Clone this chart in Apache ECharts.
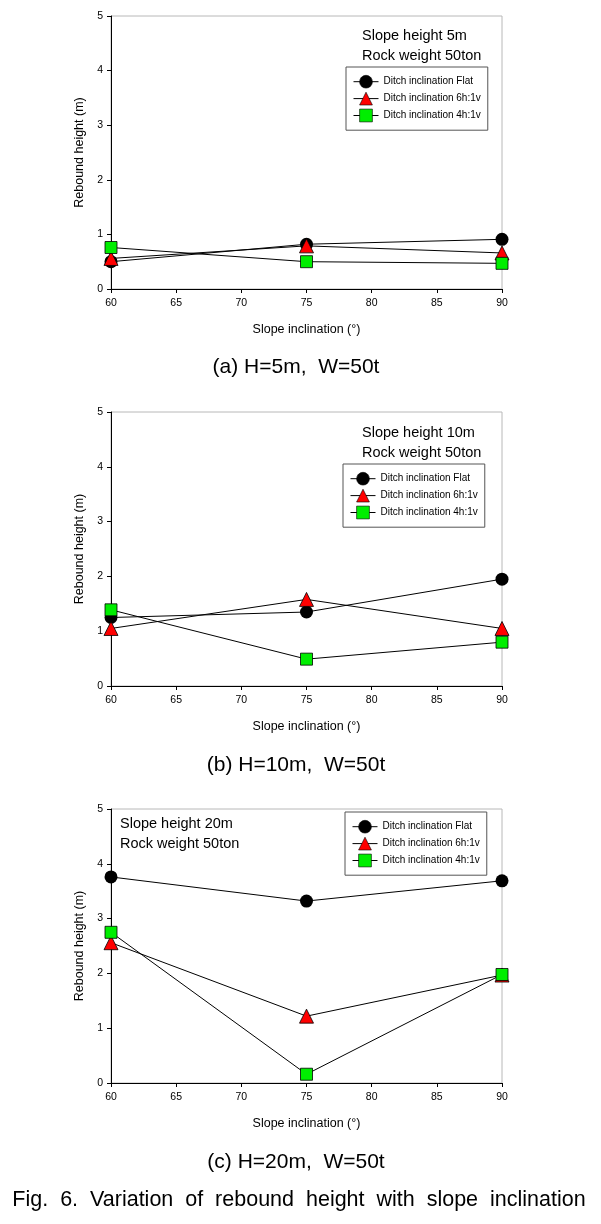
<!DOCTYPE html>
<html>
<head>
<meta charset="utf-8">
<script src="https://cdn.jsdelivr.net/npm/echarts@6/dist/echarts.min.js"></script>
<style>
  html, body { margin: 0; padding: 0; background: #fff; }
  #chart { width: 601px; height: 1224px; }
</style>
</head>
<body>
<div id="chart"></div>
<script>
// ---- data ----
var slopeInclination = [60, 75, 90];
var seriesNames = ['Ditch inclination Flat', 'Ditch inclination 6h:1v', 'Ditch inclination 4h:1v'];

var a_flat = [0.50, 0.82, 0.91];
var a_6h1v = [0.56, 0.79, 0.66];
var a_4h1v = [0.76, 0.50, 0.47];

var b_flat = [1.25, 1.35, 1.95];
var b_6h1v = [1.05, 1.58, 1.05];
var b_4h1v = [1.39, 0.49, 0.80];

var c_flat = [3.76, 3.32, 3.69];
var c_6h1v = [2.56, 1.22, 1.97];
var c_4h1v = [2.75, 0.16, 1.98];

var panelNotes = [
  ['Slope height 5m', 'Rock weight 50ton'],
  ['Slope height 10m', 'Rock weight 50ton'],
  ['Slope height 20m', 'Rock weight 50ton']
];
var panelCaptions = ['(a) H=5m,  W=50t', '(b) H=10m,  W=50t', '(c) H=20m,  W=50t'];
var figCaption = 'Fig.  6.  Variation  of  rebound  height  with  slope  inclination';
var xAxisName = 'Slope inclination (°)';
var yAxisName = 'Rebound height (m)';

// ---- layout ----
var FONT = 'Liberation Sans, Arial, sans-serif';
var grids = [
  { left: 111, top: 16, width: 391, height: 273 },
  { left: 111, top: 412, width: 391, height: 274 },
  { left: 111, top: 809, width: 391, height: 274 }
];
var legendPos = [
  { left: 346, top: 67 },
  { left: 343, top: 464 },
  { left: 345, top: 812 }
];
var notePos = [
  { x: 362, y1: 36, y2: 56 },
  { x: 362, y1: 433, y2: 453 },
  { x: 120, y1: 824, y2: 844 }
];
var captionY = [367, 765.5, 1162];

var styles = [
  { symbol: 'circle', size: 13, color: '#000000' },
  { symbol: 'triangle', size: 14, color: '#ff0000' },
  { symbol: 'rect', size: 12, color: '#00ee00' }
];

var panelData = [
  [a_flat, a_6h1v, a_4h1v],
  [b_flat, b_6h1v, b_4h1v],
  [c_flat, c_6h1v, c_4h1v]
];

var option = {
  backgroundColor: '#ffffff',
  animation: false,
  grid: [], xAxis: [], yAxis: [], series: [], legend: [], graphic: []
};

for (var p = 0; p < 3; p++) {
  option.grid.push({
    left: grids[p].left, top: grids[p].top, width: grids[p].width, height: grids[p].height,
    show: true, borderColor: '#b8b8b8', borderWidth: 1, backgroundColor: 'transparent'
  });
  option.xAxis.push({
    type: 'value', gridIndex: p, min: 60, max: 90, interval: 5,
    axisLine: { show: true, onZero: false, lineStyle: { color: '#000', width: 1 } },
    axisTick: { show: true, inside: false, length: 4, lineStyle: { color: '#000' } },
    axisLabel: { fontSize: 10.5, color: '#000', fontFamily: FONT, margin: 9 },
    splitLine: { show: false },
    name: xAxisName, nameLocation: 'middle', nameGap: 34,
    nameTextStyle: { fontSize: 12.5, color: '#000', fontFamily: FONT }
  });
  option.yAxis.push({
    type: 'value', gridIndex: p, min: 0, max: 5, interval: 1,
    axisLine: { show: true, onZero: false, lineStyle: { color: '#000', width: 1 } },
    axisTick: { show: true, inside: false, length: 4, lineStyle: { color: '#000' } },
    axisLabel: { fontSize: 10.5, color: '#000', fontFamily: FONT, margin: 8 },
    splitLine: { show: false },
    name: yAxisName, nameLocation: 'middle', nameGap: 25,
    nameTextStyle: { fontSize: 12.5, color: '#000', fontFamily: FONT }
  });
  for (var s = 0; s < 3; s++) {
    var pts = slopeInclination.map(function (x, i) { return [x, panelData[p][s][i]]; });
    option.series.push({
      type: 'line', name: seriesNames[s], xAxisIndex: p, yAxisIndex: p,
      data: pts,
      symbol: styles[s].symbol, symbolSize: styles[s].size, showAllSymbol: true,
      lineStyle: { color: '#000', width: 1 },
      itemStyle: { color: styles[s].color, borderColor: '#000', borderWidth: s === 0 ? 0 : 0.8 },
      z: 2 + s
    });
  }
  option.legend.push({
    data: seriesNames, orient: 'vertical',
    left: legendPos[p].left, top: legendPos[p].top,
    itemWidth: 25, itemHeight: 16, itemGap: 3.5,
    padding: [8, 7, 8, 7],
    borderColor: '#555', borderWidth: 1, backgroundColor: '#fff',
    selectedMode: false,
    lineStyle: { width: 1, color: '#000' },
    itemStyle: { borderWidth: 0.6, borderColor: '#000' },
    textStyle: { fontSize: 10, color: '#000', fontFamily: FONT }
  });
  option.graphic.push({
    type: 'text', x: notePos[p].x, y: notePos[p].y1,
    style: { text: panelNotes[p][0], fontSize: 14.5, fontFamily: FONT, fill: '#000', align: 'left', verticalAlign: 'middle' }
  });
  option.graphic.push({
    type: 'text', x: notePos[p].x, y: notePos[p].y2,
    style: { text: panelNotes[p][1], fontSize: 14.5, fontFamily: FONT, fill: '#000', align: 'left', verticalAlign: 'middle' }
  });
  option.graphic.push({
    type: 'text', x: 296, y: captionY[p],
    style: { text: panelCaptions[p], fontSize: 21, fontFamily: FONT, fill: '#000', align: 'center', verticalAlign: 'middle' }
  });
}
option.graphic.push({
  type: 'text', x: 299, y: 1200,
  style: { text: figCaption, fontSize: 21.5, fontFamily: FONT, fill: '#000', align: 'center', verticalAlign: 'middle' }
});

var chart = echarts.init(document.getElementById('chart'), null, { renderer: 'canvas' });
chart.setOption(option);
</script>
</body>
</html>
